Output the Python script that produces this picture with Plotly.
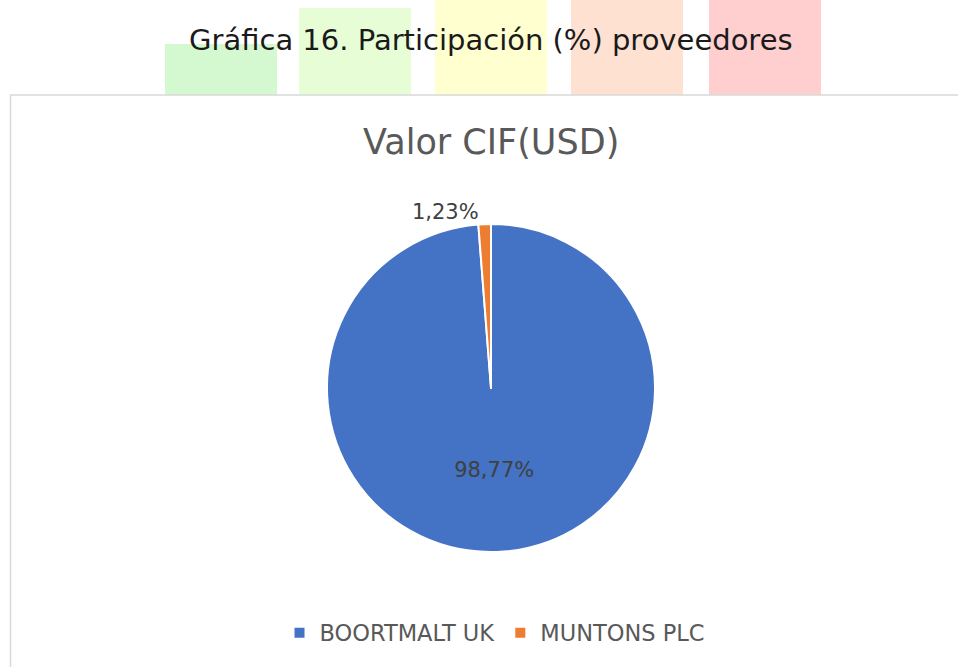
import plotly.graph_objects as go

labels = ["BOORTMALT UK", "MUNTONS PLC"]
values = [98.77, 1.23]
colors = ["#4472C4", "#ED7D31"]
text_positions = ["inside", "outside"]

main_title = "Gráfica 16. Participación (%) proveedores"
chart_title = "Valor CIF(USD)"

W, H = 958, 667
FONT = "DejaVu Sans"


def px(x):
    return x / W


def py(y):
    return (H - y) / H


fig = go.Figure()
fig.add_trace(go.Pie(
    labels=labels,
    values=values,
    sort=False,
    direction="clockwise",
    rotation=0,
    marker=dict(colors=colors, line=dict(color="white", width=2)),
    textposition=text_positions,
    texttemplate="%{percent:.2%}",
    textfont=dict(family=FONT, size=21, color="#404040"),
    insidetextorientation="horizontal",
    domain=dict(x=[px(491 - 164), px(491 + 164)],
                y=[py(552), py(224)]),
    hoverinfo="label+percent",
))

# decorative coloured blocks behind the heading
blocks = [
    (165, 277, 44, "#D4F8D0"),
    (299, 411, 8, "#E6FDD6"),
    (435, 547, 0, "#FFFFCF"),
    (571, 683, 0, "#FFE1D2"),
    (709, 821, 0, "#FFCFCF"),
]
shapes = []
for x0, x1, top, col in blocks:
    shapes.append(dict(type="rect", xref="paper", yref="paper",
                       x0=px(x0), x1=px(x1), y0=py(95), y1=py(top),
                       fillcolor=col, line=dict(width=0), layer="below"))
# chart border
shapes.append(dict(type="rect", xref="paper", yref="paper",
                   x0=px(10.5), x1=1.05, y0=-0.05, y1=py(95),
                   line=dict(color="#D9D9D9", width=1.5), fillcolor="rgba(0,0,0,0)"))

annotations = [
    dict(text=main_title, xref="paper", yref="paper", x=px(491), y=py(40),
         xanchor="center", yanchor="middle", showarrow=False,
         font=dict(family=FONT, size=29, color="#1a1a1a")),
    dict(text=chart_title, xref="paper", yref="paper", x=px(491), y=py(142),
         xanchor="center", yanchor="middle", showarrow=False,
         font=dict(family=FONT, size=35, color="#595959")),
]

fig.update_layout(
    width=W, height=H,
    margin=dict(l=0, r=0, t=0, b=0),
    paper_bgcolor="white",
    plot_bgcolor="white",
    separators=",.",
    shapes=shapes,
    annotations=annotations,
    showlegend=True,
    legend=dict(orientation="h", x=px(495), y=py(633),
                xanchor="center", yanchor="middle",
                font=dict(family=FONT, size=22.5, color="#595959"),
                itemsizing="constant", traceorder="normal"),
)

fig.write_html(
    "out.html",
    config={"displayModeBar": False},
    post_script="document.body.style.margin='0';document.body.style.overflow='hidden';",
)
